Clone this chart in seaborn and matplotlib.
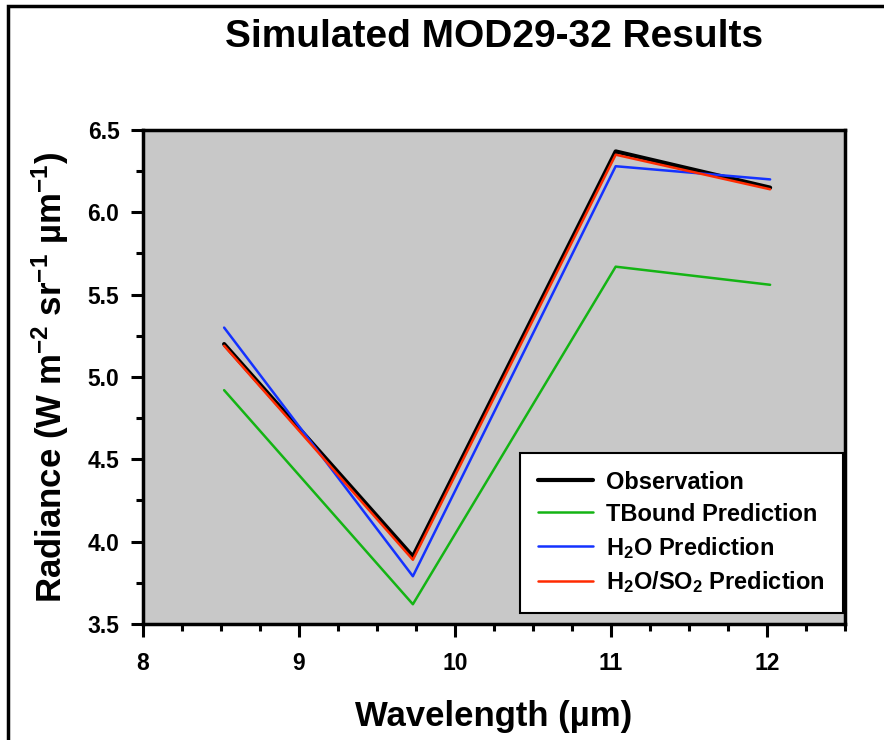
#!/usr/bin/env python3
"""
Simulated MOD29-32 radiance comparison
"""
import numpy as np
import pandas as pd
import matplotlib
matplotlib.use('Agg')
import matplotlib.pyplot as plt
from matplotlib.patches import Rectangle
from matplotlib.ticker import MultipleLocator, FormatStrFormatter
import seaborn as sns

sns.set_style('ticks', {'axes.edgecolor': 'black', 'text.color': 'black',
                        'axes.labelcolor': 'black', 'xtick.color': 'black',
                        'ytick.color': 'black'})
plt.rcParams['font.family'] = ['Liberation Sans', 'DejaVu Sans']
plt.rcParams['font.weight'] = 'bold'
plt.rcParams['mathtext.fontset'] = 'custom'
plt.rcParams['mathtext.rm'] = 'Liberation Sans:bold'
plt.rcParams['mathtext.bf'] = 'Liberation Sans:bold'
plt.rcParams['mathtext.default'] = 'bf'

# band centres (MODIS bands 29-32)
WAVELENGTH = [8.52, 9.73, 11.03, 12.02]

OBSERVATION = [5.20, 3.91, 6.37, 6.15]
TBOUND = [4.92, 3.62, 5.67, 5.56]
H2O = [5.30, 3.79, 6.28, 6.20]
H2O_SO2 = [5.19, 3.89, 6.35, 6.14]

SERIES = ['Observation', 'TBound Prediction', 'H$_2$O Prediction',
          'H$_2$O/SO$_2$ Prediction']
COLORS = ['#000000', '#14b414', '#1432ff', '#ff2a00']
WIDTHS = [3.0, 1.8, 1.8, 1.8]

df = pd.DataFrame({
    'wavelength': WAVELENGTH * 4,
    'radiance': OBSERVATION + TBOUND + H2O + H2O_SO2,
    'series': np.repeat(SERIES, len(WAVELENGTH)),
})

fig = plt.figure(figsize=(8.84, 7.4), dpi=100)
ax = fig.add_axes([143 / 884, 1 - 624 / 740, 702 / 884, 494 / 740])
ax.set_facecolor('#c8c8c8')

for name, color, lw in zip(SERIES, COLORS, WIDTHS):
    sub = df[df['series'] == name]
    sns.lineplot(data=sub, x='wavelength', y='radiance', color=color,
                 linewidth=lw, label=name, ax=ax)

ax.set_xlim(8, 12.5)
ax.set_ylim(3.5, 6.5)
ax.set_xticks([8, 9, 10, 11, 12])
ax.xaxis.set_minor_locator(MultipleLocator(0.25))
ax.yaxis.set_major_locator(MultipleLocator(0.5))
ax.yaxis.set_minor_locator(MultipleLocator(0.25))
ax.yaxis.set_major_formatter(FormatStrFormatter('%.1f'))

for side in ['left', 'bottom', 'top', 'right']:
    ax.spines[side].set_linewidth(2.5)
    ax.spines[side].set_color('black')
    ax.spines[side].set_visible(True)
ax.tick_params(which='major', direction='out', length=9, width=2.2,
               labelsize=16.5, color='black', labelcolor='black')
ax.tick_params(which='minor', direction='out', length=5, width=2.2,
               color='black')
ax.tick_params(axis='x', which='major', pad=11)
ax.tick_params(axis='y', which='major', pad=8)
ax.tick_params(top=False, right=False, which='both')

ax.set_xlabel('Wavelength (µm)', fontsize=25, fontweight='bold', labelpad=18)
ax.set_ylabel('Radiance (W m$^{-2}$ sr$^{-1}$ µm$^{-1}$)', fontsize=25,
              fontweight='bold', labelpad=12)
fig.text(494 / 884, 1 - 37 / 740, 'Simulated MOD29-32 Results', ha='center',
         va='center', fontsize=28, fontweight='bold')

leg = ax.legend(loc='lower right', bbox_to_anchor=(0.997, 0.022),
                borderaxespad=0, fontsize=17, handlelength=2.35,
                handletextpad=0.55, fancybox=False, framealpha=1,
                edgecolor='black', labelspacing=0.38, borderpad=0.75)
leg.get_frame().set_linewidth(1.5)
for txt in leg.get_texts():
    txt.set_fontweight('bold')
    txt.set_color('black')

# frame round the whole figure (right and bottom edges fall outside)
fig.patches.append(Rectangle((8 / 884, -0.2), 1.2, 0.2 + (1 - 6.5 / 740),
                             transform=fig.transFigure, fill=False,
                             edgecolor='black', linewidth=2.5))

fig.savefig('out.png', dpi=100)
plt.close(fig)
